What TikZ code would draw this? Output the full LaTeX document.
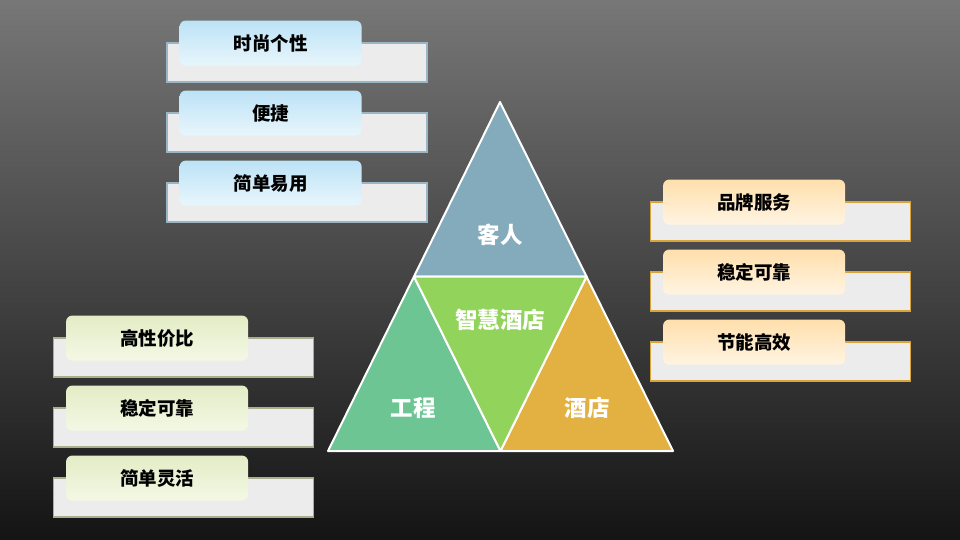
\documentclass[tikz,border=0pt]{standalone}
\usepackage{fontspec}
\setmainfont{Noto Sans CJK SC}
\usetikzlibrary{positioning}
\definecolor{bgtop}{HTML}{777777}
\definecolor{bgbot}{HTML}{141414}
\definecolor{backfill}{HTML}{ECECEC}
\definecolor{blueline}{HTML}{9AB6C4}
\definecolor{bluetop}{HTML}{BCE2F6}
\definecolor{bluebot}{HTML}{E8F6FC}
\definecolor{orangeline}{HTML}{D9A53A}
\definecolor{orangetop}{HTML}{FFDFAC}
\definecolor{orangebot}{HTML}{FFF4E2}
\definecolor{greenline}{HTML}{A9AE8C}
\definecolor{greentop}{HTML}{E3ECC6}
\definecolor{greenbot}{HTML}{F4F8E4}
\definecolor{guestcol}{HTML}{84ABBB}
\definecolor{projcol}{HTML}{6DC594}
\definecolor{smartcol}{HTML}{92D35B}
\definecolor{hotelcol}{HTML}{E2B142}
\tikzset{
  backbox/.style={draw=#1,line width=1.2pt,fill=backfill,minimum width=260pt,minimum height=39pt,inner sep=0pt},
  frontbox/.style 2 args={rounded corners=6pt,top color=#1,bottom color=#2,minimum width=182pt,minimum height=45pt,
    inner sep=0pt,anchor=north west,font=\fontsize{18.5}{22}\selectfont\bfseries,text=black},
  part/.style={draw=white,line width=2pt,line join=round},
  partlabel/.style={font=\fontsize{22.5}{26}\selectfont\bfseries,text=white}
}
\begin{document}
\begin{tikzpicture}[x=1pt,y=-1pt]
  \useasboundingbox (0,0) rectangle (960,540);
  \shade[top color=bgtop,bottom color=bgbot] (0,0) rectangle (960,540);
  % left top: guest
  \node (g1b) [backbox=blueline] at (297,62.5) {};
  \node (g1) [frontbox={bluetop}{bluebot}] at ([xshift=13pt,yshift=22pt]g1b.north west) {时尚个性};
  \node (g2b) [backbox=blueline] at (297,132.5) {};
  \node (g2) [frontbox={bluetop}{bluebot}] at ([xshift=13pt,yshift=22pt]g2b.north west) {便捷};
  \node (g3b) [backbox=blueline] at (297,202.5) {};
  \node (g3) [frontbox={bluetop}{bluebot}] at ([xshift=13pt,yshift=22pt]g3b.north west) {简单易用};
  % right: hotel
  \node (h1b) [backbox=orangeline] at (780.5,221.5) {};
  \node (h1) [frontbox={orangetop}{orangebot}] at ([xshift=13pt,yshift=22pt]h1b.north west) {品牌服务};
  \node (h2b) [backbox=orangeline] at (780.5,291.5) {};
  \node (h2) [frontbox={orangetop}{orangebot}] at ([xshift=13pt,yshift=22pt]h2b.north west) {稳定可靠};
  \node (h3b) [backbox=orangeline] at (780.5,361.5) {};
  \node (h3) [frontbox={orangetop}{orangebot}] at ([xshift=13pt,yshift=22pt]h3b.north west) {节能高效};
  % left bottom: project
  \node (p1b) [backbox=greenline] at (183.5,357.5) {};
  \node (p1) [frontbox={greentop}{greenbot}] at ([xshift=13pt,yshift=22pt]p1b.north west) {高性价比};
  \node (p2b) [backbox=greenline] at (183.5,427.5) {};
  \node (p2) [frontbox={greentop}{greenbot}] at ([xshift=13pt,yshift=22pt]p2b.north west) {稳定可靠};
  \node (p3b) [backbox=greenline] at (183.5,497.5) {};
  \node (p3) [frontbox={greentop}{greenbot}] at ([xshift=13pt,yshift=22pt]p3b.north west) {简单灵活};
  % triangle
  \coordinate (top) at (500,102);
  \coordinate (bl) at (328,451);
  \coordinate (br) at (673,451);
  \coordinate (ml) at (414,276.5);
  \coordinate (mr) at (586.5,276.5);
  \coordinate (mb) at (500.5,451);
  \filldraw[part,fill=guestcol] (top) -- (mr) -- (ml) -- cycle;
  \filldraw[part,fill=projcol] (ml) -- (mb) -- (bl) -- cycle;
  \filldraw[part,fill=hotelcol] (mr) -- (br) -- (mb) -- cycle;
  \filldraw[part,fill=smartcol] (ml) -- (mr) -- (mb) -- cycle;
  \node (guest) [partlabel] at (500,235) {客人};
  \node (smart) [partlabel] at (500,320) {智慧酒店};
  \node (proj) [partlabel] at (413,408) {工程};
  \node (hotel) [partlabel] at (587,408) {酒店};
\end{tikzpicture}
\end{document}
